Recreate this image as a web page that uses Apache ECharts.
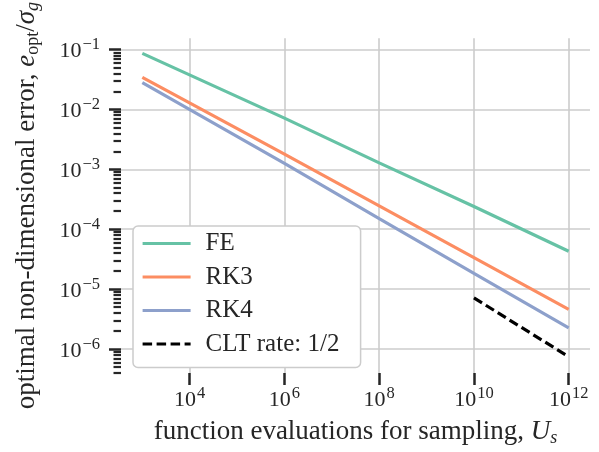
<!DOCTYPE html>
<html><head><meta charset="utf-8">
<script src="https://cdn.jsdelivr.net/npm/echarts@6/dist/echarts.min.js"></script>
<style>html,body{margin:0;padding:0;background:#fff}#c{width:599px;height:452px}</style>
</head><body><div id="c"></div>
<script>
// ---- data ----
const evaluations = [1e3, 1e6, 1e8, 1e10, 1e12];
const feError  = [0.0861, 7.15e-3, 1.28e-3, 2.40e-4, 4.3e-5];
const rk3Error = [0.0344, 1.80e-3, 2.45e-4, 3.35e-5, 4.6e-6];
const rk4Error = [0.0281, 1.26e-3, 1.50e-4, 1.83e-5, 2.25e-6];
const cltEvaluations = [1e10, 1e12];
const cltRate = [7.15e-6, 7.45e-7];
const seriesNames = ['FE', 'RK3', 'RK4', 'CLT rate: 1/2'];
const xTickValues = [1e4, 1e6, 1e8, 1e10, 1e12];
const yTickValues = [1e-6, 1e-5, 1e-4, 1e-3, 1e-2, 1e-1];
const yMinorTickValues = [];
for (let n = -7; n <= -1; n++) for (let k = 2; k <= 9; k++) yMinorTickValues.push(k * Math.pow(10, n));

const F = '"Liberation Serif", "Times New Roman", serif';
const TXT = '#262626';
const colors = ['#66c2a5', '#fc8d62', '#8da0cb', '#000000'];

function pow10Label(v) {
  const n = Math.round(Math.log10(v));
  const e = n < 0 ? '\u2212' + (-n) : String(n);
  return '{b|10}{s|' + e + '}';
}
const tickRich = {
  b: { fontSize: 22, fontFamily: F, color: TXT, lineHeight: 26, verticalAlign: 'bottom' },
  s: { fontSize: 16.5, fontFamily: F, color: TXT, lineHeight: 14, verticalAlign: 'top', padding: [0, 0, 0, 1] }
};
const TF = 27;
const titleRich = {
  t: { fontSize: TF, fontFamily: F, color: TXT, lineHeight: 30 },
  i: { fontSize: TF, fontFamily: F, fontStyle: 'italic', color: TXT, lineHeight: 30 },
  sub: { fontSize: 18, fontFamily: F, color: TXT, lineHeight: 13, verticalAlign: 'bottom' },
  subi: { fontSize: 18, fontFamily: F, fontStyle: 'italic', color: TXT, lineHeight: 13, verticalAlign: 'bottom' }
};

const xMin = Math.pow(10, 2.55), xMax = Math.pow(10, 12.45);
const yMin = Math.pow(10, -6.4), yMax = Math.pow(10, -0.81);

function pairs(xs, ys) { return xs.map((x, i) => [x, ys[i]]); }

const chart = echarts.init(document.getElementById('c'), null, { renderer: 'canvas' });
chart.setOption({
  animation: false,
  backgroundColor: '#ffffff',
  grid: { left: 121, right: 9, top: 33, bottom: 77, containLabel: false },
  xAxis: {
    type: 'log', min: xMin, max: xMax,
    axisLine: { show: false },
    axisTick: { show: true, customValues: xTickValues, length: 12, lineStyle: { color: TXT, width: 2.5 } },
    axisLabel: { customValues: xTickValues, formatter: pow10Label, rich: tickRich, margin: 12 },
    splitLine: { show: true, lineStyle: { color: '#cccccc', width: 1.6 } },
    minorTick: { show: false },
    name: '{t|function evaluations for sampling, }{i|U}{subi|s}',
    nameLocation: 'middle', nameGap: 44,
    nameTextStyle: { rich: titleRich }
  },
  yAxis: [{
    type: 'log', min: yMin, max: yMax,
    axisLine: { show: false },
    axisTick: { show: true, customValues: yTickValues, length: 12, lineStyle: { color: TXT, width: 2.5 } },
    axisLabel: { customValues: yTickValues, formatter: pow10Label, rich: tickRich, margin: 21 },
    splitLine: { show: true, lineStyle: { color: '#cccccc', width: 1.6 } },
    name: '{t|optimal non-dimensional error, }{i|e}{sub|opt}{t|/}{i|\u03c3}{subi|g}',
    nameLocation: 'middle', nameGap: 79,
    nameTextStyle: { rich: titleRich }
  }, {
    type: 'log', min: yMin, max: yMax, position: 'left',
    axisLine: { show: false },
    axisTick: { show: true, customValues: yMinorTickValues, length: 7.5, lineStyle: { color: TXT, width: 2.2 } },
    axisLabel: { show: false },
    splitLine: { show: false }
  }],
  legend: {
    orient: 'vertical', left: 133, top: 226,
    padding: [5, 9, 11, 8],
    itemWidth: 48, itemHeight: 14, itemGap: 8.5,
    itemStyle: { opacity: 0 },
    lineStyle: { width: 3.2 },
    backgroundColor: '#ffffff', borderColor: '#cccccc', borderWidth: 1.5, borderRadius: 5,
    textStyle: { fontFamily: F, fontSize: 25, color: TXT, lineHeight: 24, padding: [0, 0, 0, 10], width: 146 },
    data: seriesNames
  },
  series: [
    { name: seriesNames[0], type: 'line', symbol: 'none', data: pairs(evaluations, feError), lineStyle: { color: colors[0], width: 3.2 }, itemStyle: { color: colors[0] } },
    { name: seriesNames[1], type: 'line', symbol: 'none', data: pairs(evaluations, rk3Error), lineStyle: { color: colors[1], width: 3.2 }, itemStyle: { color: colors[1] } },
    { name: seriesNames[2], type: 'line', symbol: 'none', data: pairs(evaluations, rk4Error), lineStyle: { color: colors[2], width: 3.2 }, itemStyle: { color: colors[2] } },
    { name: seriesNames[3], type: 'line', symbol: 'none', data: pairs(cltEvaluations, cltRate), lineStyle: { color: colors[3], width: 3.2, type: [9.5, 4.5] }, itemStyle: { color: colors[3] } }
  ]
});
</script></body></html>
